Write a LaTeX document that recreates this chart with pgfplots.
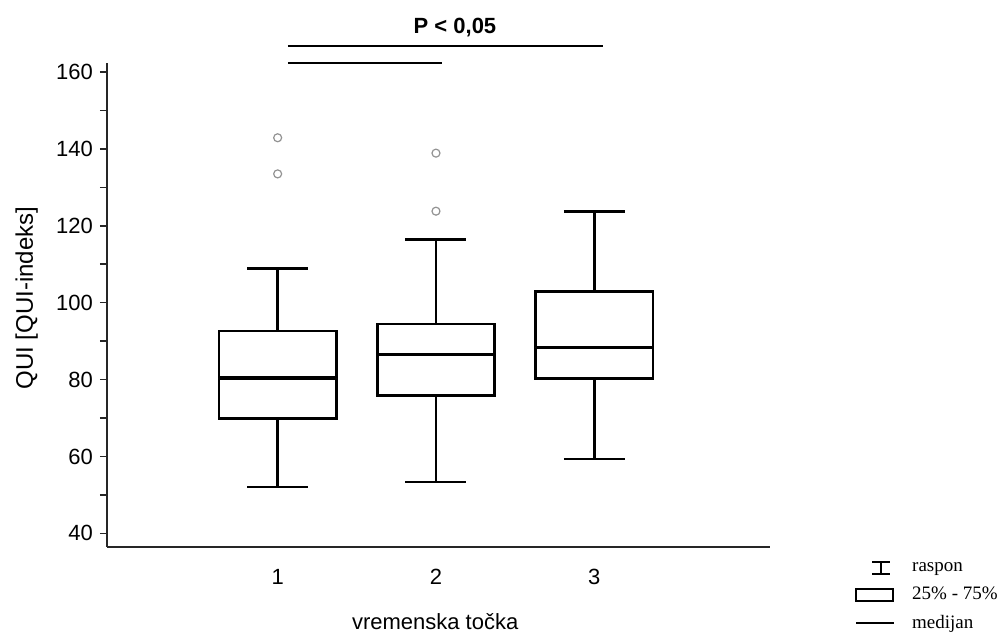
\documentclass[border=0pt]{standalone}
\usepackage{fontspec}
\setmainfont{Liberation Sans}
\newfontfamily\legendfont{Liberation Serif}
\usepackage{pgfplots}
\pgfplotsset{compat=1.18}
\usepgfplotslibrary{statistics}
\usetikzlibrary{calc}

\begin{document}
\begin{tikzpicture}
\begin{axis}[
  name=ax,
  scale only axis,
  width=331.5pt, height=242pt,
  xmin=-0.078, xmax=4.11,
  ymin=36.44, ymax=162.35,
  axis lines*=left,
  axis line style={line width=1.3pt, black!85},
  tick align=outside,
  ytick={40,60,...,160},
  minor ytick={50,70,...,150},
  major tick length=3.5pt, minor tick length=3.5pt,
  y tick style={line width=0.8pt, black!85},
  xtick={1,2,3},
  x tick style={draw=none},
  tick label style={font=\fontsize{11}{13}\selectfont},
  xticklabel style={yshift=-4pt},
  /pgf/number format/assume math mode=true,
  xlabel={vremenska točka},
  ylabel={QUI [QUI-indeks]},
  xlabel style={font=\fontsize{11}{13}\selectfont,
    at={(axis description cs:0.495,0)}, anchor=center, yshift=-37.5pt},
  ylabel style={font=\fontsize{12}{14}\selectfont,
    at={(axis description cs:-0.121,0.514)}, anchor=center},
  clip=false,
  legend style={at={(axis description cs:1,0)}, anchor=north west, xshift=42.5pt, yshift=-5.5pt,
    draw=none, fill=none, font=\legendfont\fontsize{9.5}{11}\selectfont,
    row sep=2.3pt, inner sep=0pt,
    /tikz/every odd column/.append style={column sep=6.5pt}},
  legend cell align=left,
  boxplot/draw direction=y,
  boxplot/box extend=0.742,
  boxplot/whisker extend=0.385,
  boxplot/every median/.style={line width=1.6pt},
]

% vremenska tocka 1
\addplot[forget plot, boxplot prepared={draw position=1,
    lower whisker=52.0, lower quartile=69.9, median=80.4,
    upper quartile=92.6, upper whisker=108.9},
  draw=black, fill=white, line width=1.3pt,
  mark=o, mark size=2pt, mark options={draw=gray!85, line width=0.6pt}]
  table[row sep=\\, y index=0] {v\\ 142.9\\ 133.5\\};

% vremenska tocka 2
\addplot[forget plot, boxplot prepared={draw position=2,
    lower whisker=53.3, lower quartile=75.9, median=86.6,
    upper quartile=94.4, upper whisker=116.5},
  draw=black, fill=white, line width=1.3pt,
  mark=o, mark size=2pt, mark options={draw=gray!85, line width=0.6pt}]
  table[row sep=\\, y index=0] {v\\ 138.9\\ 123.8\\};

% vremenska tocka 3
\addplot[forget plot, boxplot prepared={draw position=3,
    lower whisker=59.3, lower quartile=80.3, median=88.4,
    upper quartile=102.9, upper whisker=123.7},
  draw=black, fill=white, line width=1.3pt]
  coordinates {};

\addlegendimage{legend image code/.code={
  \draw[line width=1pt] (8pt,3pt) -- (17pt,3pt) (12.5pt,3pt) -- (12.5pt,-3pt) (8pt,-3pt) -- (17pt,-3pt);}}
\addlegendentry{raspon}
\addlegendimage{legend image code/.code={
  \draw[line width=1pt] (0pt,-3pt) rectangle (18.5pt,3pt);}}
\addlegendentry{25\% - 75\%}
\addlegendimage{legend image code/.code={
  \draw[line width=0.8pt] (0pt,0pt) -- (19pt,0pt);}}
\addlegendentry{medijan}

% znacajnost
\draw[line width=1.3pt] (axis cs:1.065,166.8) -- (axis cs:3.055,166.8);
\draw[line width=1.3pt] (axis cs:1.065,162.35) -- (axis cs:2.04,162.35);
\node[font=\bfseries\fontsize{11}{13}\selectfont] at (axis cs:2.12,171.5) {P < 0,05};
\end{axis}
\path ($(ax.south west)+(-53.5pt,-45pt)$) rectangle ($(ax.north east)+(116pt,31.5pt)$);
\end{tikzpicture}
\end{document}
